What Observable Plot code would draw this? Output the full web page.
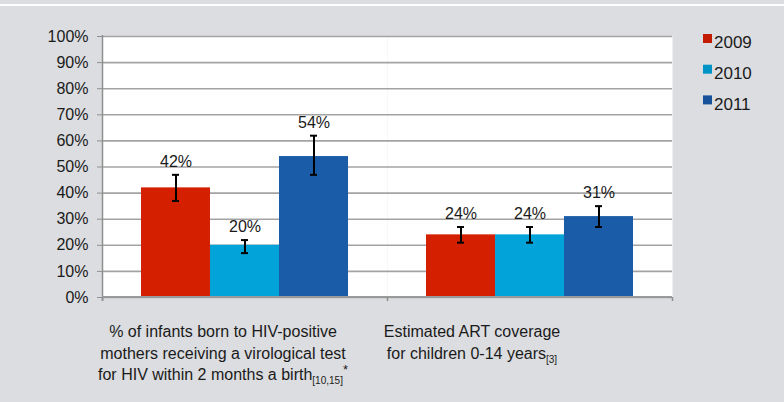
<!DOCTYPE html>
<html><head><meta charset="utf-8">
<script src="https://cdn.jsdelivr.net/npm/d3@7"></script>
<script src="https://cdn.jsdelivr.net/npm/@observablehq/plot@0.6"></script>
<style>
html,body{margin:0;padding:0;background:#dcdde0;width:784px;height:402px;overflow:hidden;font-family:"Liberation Sans",Arial,Helvetica,sans-serif;}
#chart{position:absolute;left:0;top:0;}
#topline{position:absolute;left:0;top:4px;width:784px;height:2px;background:#fff;}
</style></head><body>
<div id="chart"></div><div id="topline"></div>
<script>
// ---- data ----
const categories = ["Virological test", "ART coverage"];
const categoryLines = [
  ["% of infants born to HIV-positive", "mothers receiving a virological test", "for HIV within 2 months a birth"],
  ["Estimated ART coverage", "for children 0-14 years"]
];
const categorySubs = ["[10,15]", "[3]"];
const categorySups = ["*", ""];
const years = ["2009", "2010", "2011"];
const values2009 = [42, 24];
const values2010 = [20, 24];
const values2011 = [54, 31];
const errLow2009 = [37, 21];
const errHigh2009 = [47, 27];
const errLow2010 = [17, 21];
const errHigh2010 = [22, 27];
const errLow2011 = [47, 27];
const errHigh2011 = [62, 35];
const yTicks = [0, 10, 20, 30, 40, 50, 60, 70, 80, 90, 100];

// ---- styles ----
const barColors = ["#d42000", "#02a3d9", "#1a5ca8"];
const legendColors = ["#c21b00", "#0094c6", "#17519a"];
const labelShift = [-21.5, -57.5];
const font = '"Liberation Sans", Arial, Helvetica, sans-serif';

const seriesValues = [values2009, values2010, values2011];
const seriesLow = [errLow2009, errLow2010, errLow2011];
const seriesHigh = [errHigh2009, errHigh2010, errHigh2011];
const rows = [];
categories.forEach((cat, ci) => {
  years.forEach((yr, yi) => {
    rows.push({cat, year: yr, value: seriesValues[yi][ci], lo: seriesLow[yi][ci], hi: seriesHigh[yi][ci]});
  });
});

const plot = Plot.plot({
  width: 784, height: 402,
  marginLeft: 102, marginRight: 112, marginTop: 36, marginBottom: 105,
  style: {background: "transparent", fontFamily: font, fontSize: "16px", color: "#1a1a1a", overflow: "visible"},
  fx: {domain: categories, padding: 0, axis: null, label: null},
  x: {domain: years, paddingInner: 0, paddingOuter: 0.565, axis: null},
  y: {domain: [0, 100], axis: null},
  color: {domain: years, range: barColors},
  marks: [
    Plot.frame({fill: "white", stroke: null}),
    Plot.gridY(yTicks, {stroke: "#a3a3a3", strokeOpacity: 1, strokeWidth: 1.6}),
    Plot.axisY(yTicks, {anchor: "left", tickFormat: d => d + "%", tickSize: 5, tickPadding: 9, stroke: "#8f8f8f", fill: "#1a1a1a", fontSize: 16, label: null}),
    Plot.barY(rows, {fx: "cat", x: "year", y: "value", fill: "year"}),
    Plot.ruleX(rows, {fx: "cat", x: "year", y1: "lo", y2: "hi", stroke: "#000", strokeWidth: 2}),
    Plot.tickY(rows, {fx: "cat", x: "year", y: "lo", insetLeft: 31, insetRight: 31, stroke: "#000", strokeWidth: 2}),
    Plot.tickY(rows, {fx: "cat", x: "year", y: "hi", insetLeft: 31, insetRight: 31, stroke: "#000", strokeWidth: 2}),
    Plot.text(rows, {fx: "cat", x: "year", y: "hi", text: d => d.value + "%", dy: -13, fontSize: 16, fill: "#1a1a1a"})
  ]
});
document.getElementById("chart").appendChild(plot);

const svg = d3.select(plot);
const fx = plot.scale("fx");
const y = plot.scale("y");
const bw = fx.bandwidth;
const y0 = y.apply(0), y100 = y.apply(100);
const left = fx.apply(categories[0]);
const right = fx.apply(categories[categories.length - 1]) + bw;
const deco = svg.append("g");
// left axis line
deco.append("line").attr("x1", left + 0.5).attr("x2", left + 0.5).attr("y1", y100 - 1).attr("y2", y0 + 4)
  .attr("stroke", "#8f8f8f").attr("stroke-width", 1.5);
// baseline
deco.append("line").attr("x1", left).attr("x2", right).attr("y1", y0).attr("y2", y0)
  .attr("stroke", "#9a9a9a").attr("stroke-width", 2);
// category boundary ticks
const bounds = categories.map(c => fx.apply(c)).concat([right]);
bounds.forEach(bx => {
  deco.append("line").attr("x1", bx + 0.5).attr("x2", bx + 0.5).attr("y1", y0).attr("y2", y0 + 4)
    .attr("stroke", "#8f8f8f").attr("stroke-width", 1.5);
});

// category labels
categories.forEach((c, i) => {
  const cx = fx.apply(c) + bw / 2 + labelShift[i];
  const t = svg.append("text").attr("x", cx).attr("y", y0 + 40).attr("text-anchor", "middle")
    .attr("font-family", font).attr("font-size", 16).attr("fill", "#1a1a1a");
  const lines = categoryLines[i];
  lines.forEach((ln, li) => {
    t.append("tspan").attr("x", cx).attr("dy", li === 0 ? 0 : 21.7).text(ln);
  });
  t.append("tspan").attr("font-size", 10).attr("dy", 4).text(categorySubs[i]);
  if (categorySups[i]) t.append("tspan").attr("font-size", 13).attr("dy", -10).text(categorySups[i]);
});

// legend
const lg = svg.append("g").attr("font-family", font).attr("font-size", 17).attr("fill", "#1a1a1a").attr("text-anchor", "start");
years.forEach((yr, i) => {
  const by = 48.3 + i * 30.7;
  lg.append("rect").attr("x", 703).attr("y", by - 14.3).attr("width", 9).attr("height", 9).attr("fill", legendColors[i]);
  lg.append("text").attr("x", 714).attr("y", by).attr("text-anchor", "start").text(yr);
});
</script>
</body></html>
